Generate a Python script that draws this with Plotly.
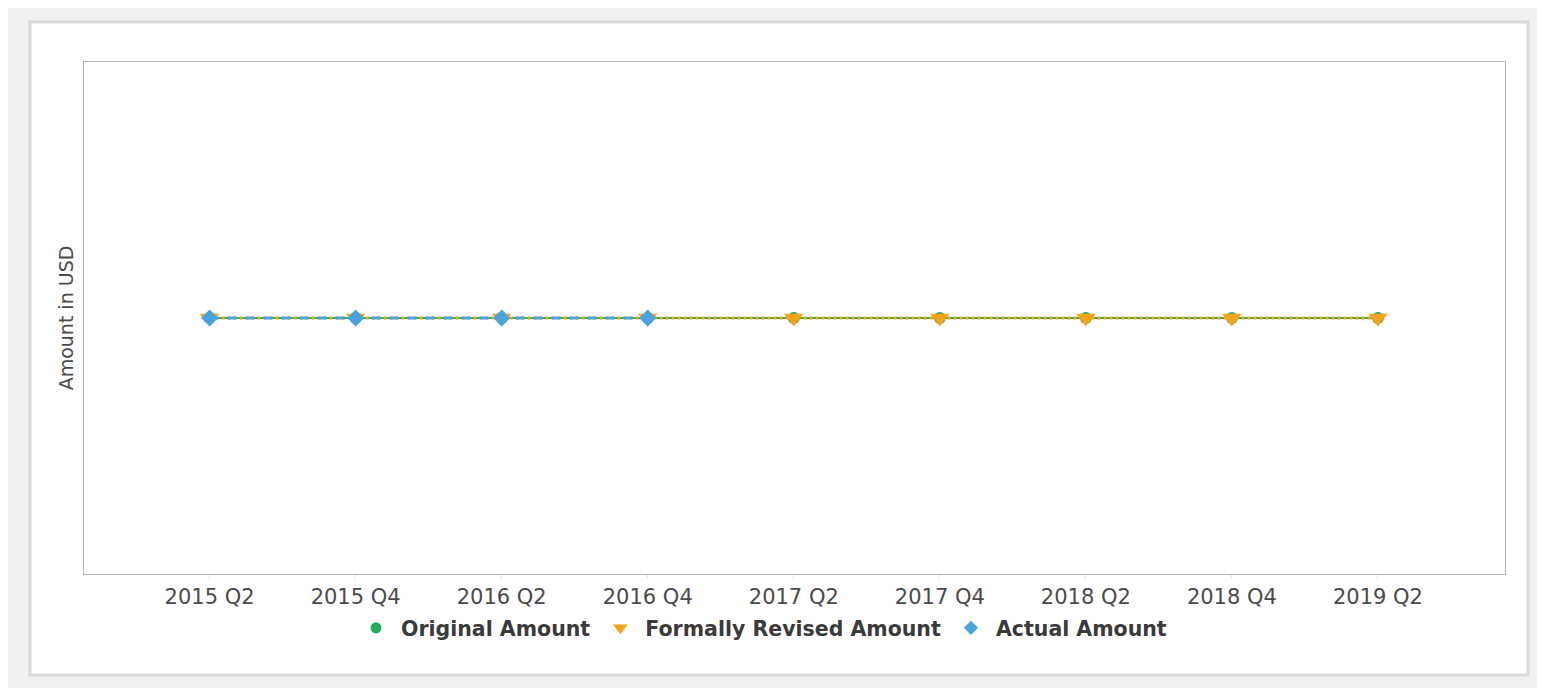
import plotly.graph_objects as go

categories = ["2015 Q2", "2015 Q4", "2016 Q2", "2016 Q4", "2017 Q2",
              "2017 Q4", "2018 Q2", "2018 Q4", "2019 Q2"]
original_amount = [0, 0, 0, 0, 0, 0, 0, 0, 0]
revised_amount = [0, 0, 0, 0, 0, 0, 0, 0, 0]
actual_amount = [0, 0, 0, 0, None, None, None, None, None]
series_names = ["Original Amount", "Formally Revised Amount", "Actual Amount"]

GREEN = "#23AE5B"
ORANGE = "#F6A31C"
BLUE = "#4AA3DF"
FONT = "DejaVu Sans"

OFF = 8  # page body margin
W, H = 1545 - OFF, 688 - OFF
L = 84 - OFF
T = 62 - OFF
R = W - (1505 - OFF)
B = H - (574 - OFF)
pw, ph = W - L - R, H - T - B


def px_x(p):
    return (p - OFF - L) / pw


def px_y(p):
    return (H - B - (p - OFF)) / ph


fig = go.Figure()
fig.add_trace(go.Scatter(
    x=categories, y=original_amount, name=series_names[0],
    mode="lines+markers", showlegend=False,
    line=dict(color=GREEN, width=2),
    marker=dict(symbol="circle", size=12, color=GREEN),
))
fig.add_trace(go.Scatter(
    x=categories, y=revised_amount, name=series_names[1],
    mode="lines+markers", showlegend=False,
    line=dict(color=ORANGE, width=3, dash="dot"),
    marker=dict(symbol="triangle-down", size=17, color=ORANGE),
))
fig.add_trace(go.Scatter(
    x=categories, y=actual_amount, name=series_names[2],
    mode="lines+markers", showlegend=False,
    line=dict(color=BLUE, width=3, dash="dash"),
    marker=dict(symbol="diamond", size=13, color=BLUE),
))

# legend entries (marker only, like the reference)
for name, sym, col, sz in zip(series_names,
                              ["circle", "triangle-down", "diamond"],
                              [GREEN, ORANGE, BLUE], [11, 13, 11]):
    fig.add_trace(go.Scatter(
        x=[None], y=[None], name=name, mode="markers",
        marker=dict(symbol=sym, size=sz, color=col),
    ))

fig.update_layout(
    width=W, height=H,
    margin=dict(l=L, r=R, t=T, b=B),
    paper_bgcolor="#F0F0F0",
    plot_bgcolor="#FFFFFF",
    font=dict(family=FONT, size=20, color="#444444"),
    showlegend=True,
    legend=dict(
        orientation="h", x=0.5 - 33 / pw, xanchor="center",
        y=px_y(628), yanchor="middle",
        font=dict(family=FONT, size=20.5, color="#3a3a3a", weight="bold"),
        itemsizing="trace", bgcolor="rgba(0,0,0,0)",
        itemwidth=40, tracegroupgap=0,
    ),
    xaxis=dict(
        type="category", range=[-0.86, 8.87],
        showgrid=False, zeroline=False,
        showline=True, linecolor="#B5B5B5", linewidth=1, mirror=True,
        ticks="outside", ticklen=4, tickcolor="#E0E0E0",
        tickfont=dict(family=FONT, size=21, color="#4a4a4a"),
    ),
    yaxis=dict(
        range=[-1, 1], showgrid=False, zeroline=False,
        showticklabels=False, ticks="",
        showline=True, linecolor="#B5B5B5", linewidth=1, mirror=True,
        title=dict(text="Amount in USD", standoff=4,
                   font=dict(family=FONT, size=19, color="#4a4a4a")),
    ),
    shapes=[dict(
        type="rect", xref="paper", yref="paper", layer="below",
        x0=px_x(30), x1=px_x(1528), y0=px_y(675), y1=px_y(22),
        fillcolor="#FFFFFF", line=dict(color="#DADADA", width=3),
    )],
)

fig.write_html("out.html")
